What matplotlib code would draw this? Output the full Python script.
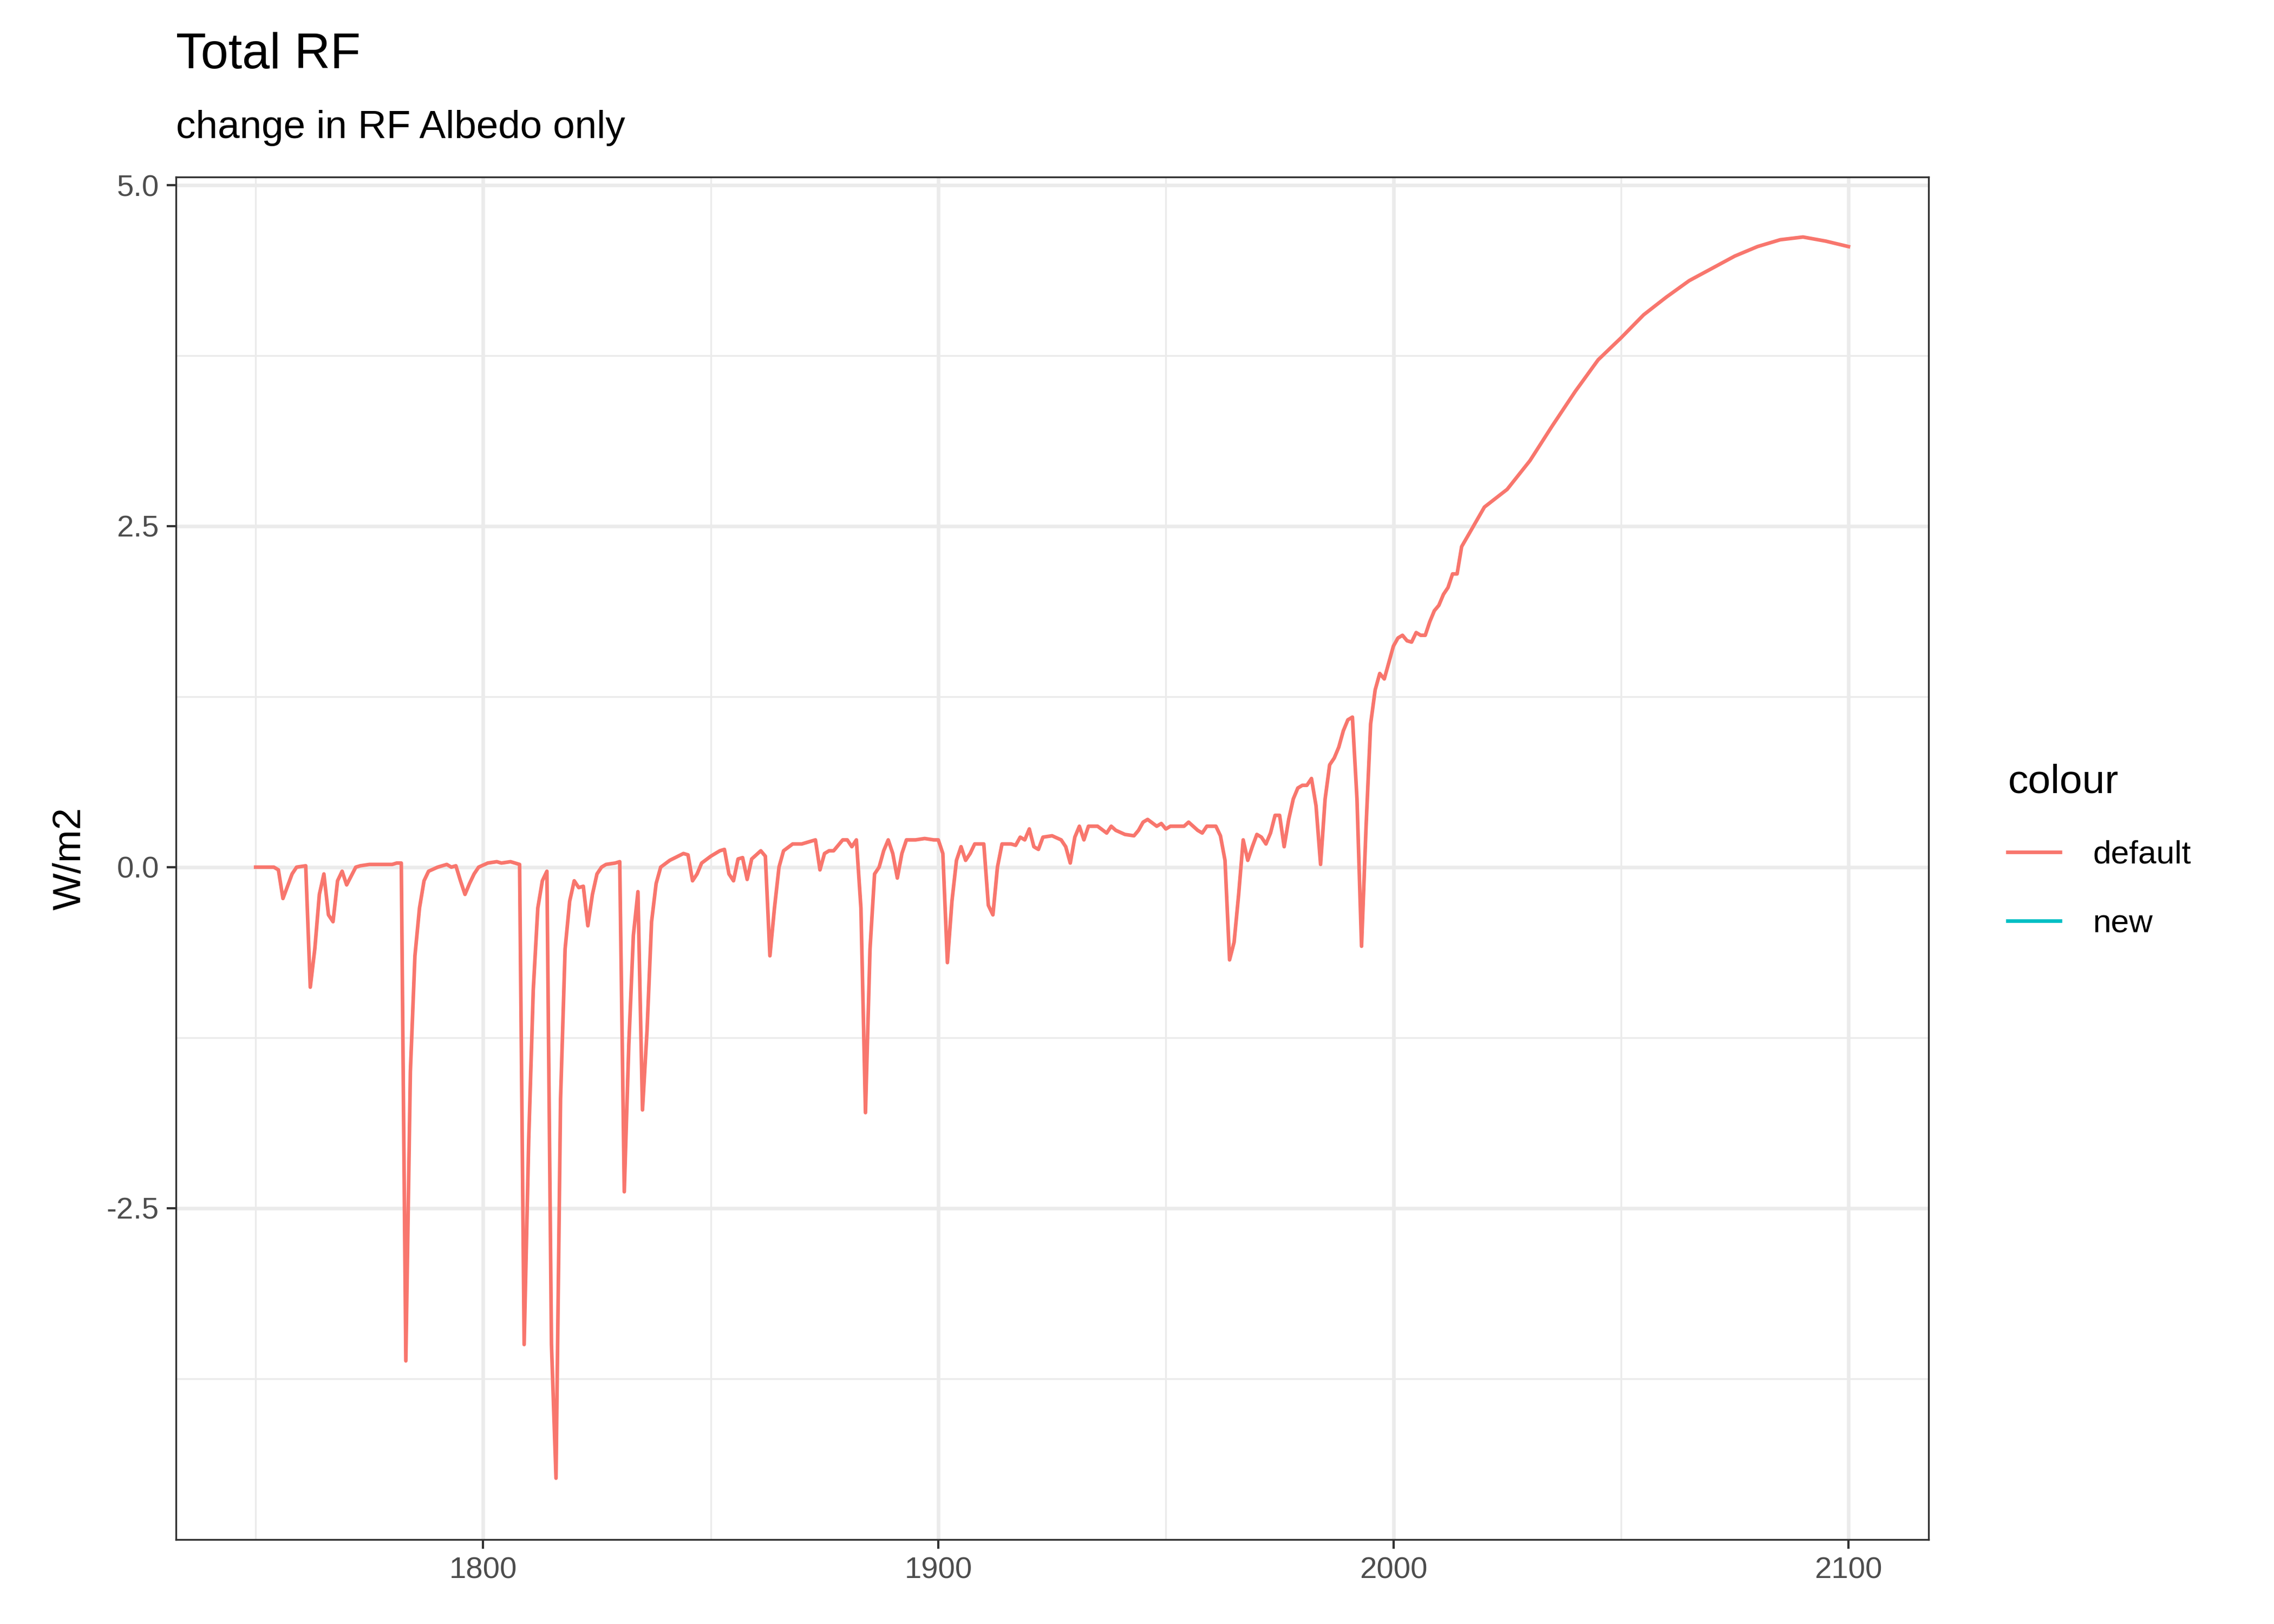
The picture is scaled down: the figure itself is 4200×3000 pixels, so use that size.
import matplotlib
matplotlib.use('Agg')
import matplotlib.pyplot as plt
from matplotlib.lines import Line2D
from matplotlib.ticker import MultipleLocator

plt.rcParams['font.family'] = ['Liberation Sans', 'DejaVu Sans']

# Total RF, default run
years = [1750, 1754, 1755, 1756, 1758, 1759, 1761, 1762, 1763, 1764, 1765, 1766, 1767, 1768, 1769, 1770,
         1772, 1773, 1775, 1780, 1781, 1782, 1783, 1784, 1785, 1786, 1787, 1788, 1790, 1792, 1793, 1794,
         1795, 1796, 1797, 1798, 1799, 1801, 1803, 1804, 1806, 1808, 1809, 1810, 1811, 1812, 1813, 1814,
         1815, 1816, 1817, 1818, 1819, 1820, 1821, 1822, 1823, 1824, 1825, 1826, 1827, 1829, 1830, 1831,
         1832, 1833, 1834, 1835, 1836, 1837, 1838, 1839, 1841, 1844, 1845, 1846, 1847, 1848, 1850, 1852,
         1853, 1854, 1855, 1856, 1857, 1858, 1859, 1861, 1862, 1863, 1864, 1865, 1866, 1868, 1870, 1873,
         1874, 1875, 1876, 1877, 1879, 1880, 1881, 1882, 1883, 1884, 1885, 1886, 1887, 1888, 1889, 1890,
         1891, 1892, 1893, 1895, 1897, 1899, 1900, 1901, 1902, 1903, 1904, 1905, 1906, 1907, 1908, 1910,
         1911, 1912, 1913, 1914, 1916, 1917, 1918, 1919, 1920, 1921, 1922, 1923, 1925, 1927, 1928, 1929,
         1930, 1931, 1932, 1933, 1935, 1937, 1938, 1939, 1941, 1943, 1944, 1945, 1946, 1948, 1949, 1950,
         1951, 1954, 1955, 1957, 1958, 1959, 1961, 1962, 1963, 1964, 1965, 1966, 1967, 1968, 1969, 1970,
         1971, 1972, 1973, 1974, 1975, 1976, 1977, 1978, 1979, 1980, 1981, 1982, 1983, 1984, 1985, 1986,
         1987, 1988, 1989, 1990, 1991, 1992, 1993, 1994, 1995, 1996, 1997, 1998, 1999, 2000, 2001, 2002,
         2003, 2004, 2005, 2006, 2007, 2008, 2009, 2010, 2011, 2012, 2013, 2014, 2015, 2020, 2025, 2030,
         2035, 2040, 2045, 2050, 2055, 2060, 2065, 2070, 2075, 2080, 2085, 2090, 2095, 2100]
rf_default = [0.0, 0.0, -0.02, -0.23, -0.05, 0.0, 0.01, -0.88, -0.6, -0.2, -0.05, -0.35, -0.4, -0.1, -0.03, -0.13,
              0.0, 0.01, 0.02, 0.02, 0.03, 0.03, -3.62, -1.5, -0.65, -0.3, -0.1, -0.03, 0.0, 0.02, 0.0, 0.01,
              -0.1, -0.2, -0.12, -0.05, 0.0, 0.03, 0.04, 0.03, 0.04, 0.02, -3.5, -2.0, -0.9, -0.3, -0.1, -0.03,
              -3.5, -4.48, -1.7, -0.6, -0.25, -0.1, -0.15, -0.14, -0.43, -0.2, -0.05, 0.0, 0.02, 0.03, 0.04, -2.38,
              -1.3, -0.5, -0.18, -1.78, -1.2, -0.4, -0.12, 0.0, 0.05, 0.1, 0.09, -0.1, -0.05, 0.03, 0.08, 0.12,
              0.13, -0.05, -0.1, 0.06, 0.07, -0.09, 0.06, 0.12, 0.08, -0.65, -0.3, 0.0, 0.12, 0.17, 0.17, 0.2,
              -0.02, 0.1, 0.12, 0.12, 0.2, 0.2, 0.15, 0.2, -0.3, -1.8, -0.6, -0.05, 0.0, 0.12, 0.2, 0.1,
              -0.08, 0.1, 0.2, 0.2, 0.21, 0.2, 0.2, 0.1, -0.7, -0.25, 0.05, 0.15, 0.05, 0.1, 0.17, 0.17,
              -0.28, -0.35, 0.0, 0.17, 0.17, 0.16, 0.22, 0.2, 0.28, 0.15, 0.13, 0.22, 0.23, 0.2, 0.15, 0.03,
              0.22, 0.3, 0.2, 0.3, 0.3, 0.25, 0.3, 0.27, 0.24, 0.23, 0.27, 0.33, 0.35, 0.3, 0.32, 0.28,
              0.3, 0.3, 0.33, 0.27, 0.25, 0.3, 0.3, 0.23, 0.05, -0.68, -0.55, -0.2, 0.2, 0.05, 0.15, 0.24,
              0.22, 0.17, 0.25, 0.38, 0.38, 0.15, 0.35, 0.5, 0.58, 0.6, 0.6, 0.65, 0.45, 0.02, 0.5, 0.75,
              0.8, 0.88, 1.0, 1.08, 1.1, 0.5, -0.58, 0.3, 1.05, 1.3, 1.42, 1.38, 1.5, 1.62, 1.68, 1.7,
              1.66, 1.65, 1.72, 1.7, 1.7, 1.8, 1.88, 1.92, 2.0, 2.05, 2.15, 2.15, 2.35, 2.64, 2.77, 2.98,
              3.24, 3.49, 3.72, 3.88, 4.05, 4.18, 4.3, 4.39, 4.48, 4.55, 4.6, 4.62, 4.59, 4.55]

series_names = ['default', 'new']
series_colors = ['#F8766D', '#00BFC4']

fig = plt.figure(figsize=(14, 10), dpi=300)
ax = fig.add_axes([0.0774, 0.052, 0.7707, 0.839])

ax.plot(years, rf_default, color=series_colors[0], lw=1.6)

ax.set_xlim(1732.5, 2117.6)
ax.set_ylim(-4.93, 5.06)
ax.xaxis.set_major_locator(MultipleLocator(100))
ax.xaxis.set_minor_locator(MultipleLocator(50))
ax.yaxis.set_major_locator(MultipleLocator(2.5))
ax.yaxis.set_minor_locator(MultipleLocator(1.25))
ax.yaxis.set_major_formatter(matplotlib.ticker.FormatStrFormatter('%.1f'))
ax.grid(which='major', color='#EBEBEB', lw=1.6)
ax.grid(which='minor', color='#EBEBEB', lw=0.8)
ax.set_axisbelow(True)
ax.tick_params(which='major', labelsize=13.5, labelcolor='#4D4D4D', color='#333333', length=4, width=1)
ax.tick_params(which='minor', length=0)
for s in ax.spines.values():
    s.set_color('#333333')
    s.set_linewidth(0.8)

ax.set_ylabel('W/m2', fontsize=17.5, labelpad=8)
fig.text(0.0774, 0.958, 'Total RF', fontsize=22, va='baseline')
fig.text(0.0774, 0.915, 'change in RF Albedo only', fontsize=17.5, va='baseline')

handles = [Line2D([], [], color=c, lw=1.6) for c in series_colors]
leg = fig.legend(handles, series_names, title='colour', loc='upper left',
                 bbox_to_anchor=(0.87, 0.548), frameon=False, fontsize=14.5,
                 title_fontsize=18, handlelength=1.6, labelspacing=1.2, handletextpad=1.0)
leg._legend_box.align = 'left'

fig.savefig('out.png', dpi=300)
